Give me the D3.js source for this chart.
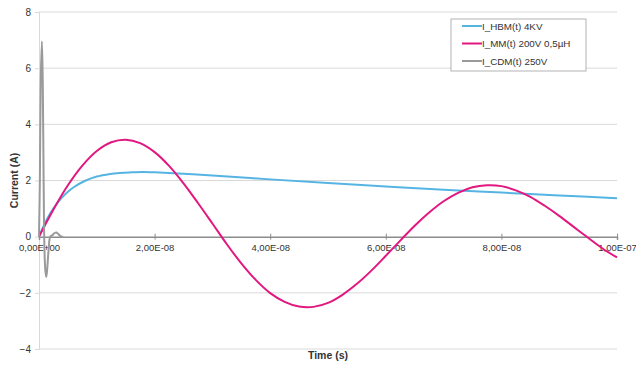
<!DOCTYPE html>
<html>
<head>
<meta charset="utf-8">
<script src="https://cdn.jsdelivr.net/npm/d3@7"></script>
<style>
  body { margin: 0; background: #fff; }
  svg text { font-family: "Liberation Sans", Arial, sans-serif; fill: #333; }
</style>
</head>
<body>
<div id="chart"></div>
<script>
// time in ns, current in A
var hbmTime = [0, 1, 2, 3, 4, 5, 6, 8, 10, 12, 14, 16, 18, 20, 25, 30, 40, 50, 60, 70, 80, 90, 100];
var hbmCurrent = [0, 0.47, 0.85, 1.15, 1.40, 1.60, 1.76, 1.99, 2.14, 2.22, 2.27, 2.29, 2.30, 2.29, 2.24, 2.18, 2.04, 1.91, 1.79, 1.67, 1.57, 1.47, 1.37];

var mmTime = [0, 2.5, 5, 7.5, 10, 12.5, 15, 17.5, 20, 22.5, 25, 27.5, 30, 32.5, 35, 37.5, 40, 42.5, 45, 47.5, 50,
  52.5, 55, 57.5, 60, 62.5, 65, 67.5, 70, 72.5, 75, 77.5, 80, 82.5, 85, 87.5, 90, 92.5, 95, 97.5, 100];
var mmCurrent = [0, 0.97, 1.83, 2.53, 3.05, 3.36, 3.45, 3.33, 3.01, 2.52, 1.90, 1.20, 0.47, -0.27, -0.95, -1.54, -2.01, -2.32, -2.49, -2.50, -2.36,
  -2.07, -1.68, -1.21, -0.68, -0.14, 0.39, 0.86, 1.26, 1.56, 1.76, 1.83, 1.80, 1.65, 1.42, 1.10, 0.74, 0.35, -0.04, -0.42, -0.74];

var cdmTime = [0, 0.15, 0.3, 0.5, 0.65, 0.8, 0.95, 1.1, 1.25, 1.4, 1.65, 1.95, 2.3, 2.7, 3.0, 3.3, 3.7, 4.0, 4.2];
var cdmCurrent = [0, 2.0, 5.5, 6.95, 5.5, 2.0, -0.5, -1.2, -1.43, -1.2, -0.5, 0, 0.05, 0.13, 0.15, 0.1, 0.02, 0, 0];

var seriesNames = ["I_HBM(t) 4KV", "I_MM(t) 200V 0,5µH", "I_CDM(t) 250V"];
var seriesColors = ["#56b4e3", "#e2177f", "#9a9a9a"];

var xTicks = [0, 2e-8, 4e-8, 6e-8, 8e-8, 1e-7];
var xTickLabels = ["0,00E+00", "2,00E-08", "4,00E-08", "6,00E-08", "8,00E-08", "1,00E-07"];
var yTicks = [-4, -2, 0, 2, 4, 6, 8];

var width = 636, height = 366;
var margin = { top: 12, right: 19, bottom: 17, left: 39 };

var svg = d3.select("#chart").append("svg")
  .attr("width", width)
  .attr("height", height);

var xScale = d3.scaleLinear().domain([0, 1e-7]).range([margin.left, width - margin.right]);
var yScale = d3.scaleLinear().domain([-4, 8]).range([height - margin.bottom, margin.top]);

// horizontal gridlines
svg.selectAll(".grid")
  .data(yTicks.filter(function(d) { return d !== 0; }))
  .enter()
  .append("line")
  .attr("x1", xScale(0))
  .attr("x2", xScale(1e-7))
  .attr("y1", function(d) { return yScale(d); })
  .attr("y2", function(d) { return yScale(d); })
  .attr("stroke", "#d9d9d9")
  .attr("stroke-width", 1);

// y axis
var yAxis = d3.axisLeft(yScale).tickValues(yTicks).tickSize(4).tickPadding(4);
var gy = svg.append("g")
  .attr("transform", "translate(" + margin.left + ",0)")
  .call(yAxis);
gy.select(".domain").attr("stroke", "#d9d9d9");
gy.selectAll(".tick line").attr("stroke", "#d9d9d9");
gy.selectAll(".tick text").style("font-size", "10px").attr("fill", "#333");

// x axis at y = 0
var xAxis = d3.axisBottom(xScale).tickValues(xTicks).tickSize(3).tickPadding(5)
  .tickFormat(function(d, i) { return xTickLabels[i]; });
var gx = svg.append("g")
  .attr("transform", "translate(0," + yScale(0) + ")")
  .call(xAxis);
gx.select(".domain").attr("stroke", "#8c8c8c").attr("stroke-width", 1.5);
gx.selectAll(".tick line").attr("stroke", "#8c8c8c").attr("y1", -3);
gx.selectAll(".tick text").style("font-size", "9.5px").attr("fill", "#333");

// series lines
var allSeries = [
  d3.zip(hbmTime, hbmCurrent),
  d3.zip(mmTime, mmCurrent),
  d3.zip(cdmTime, cdmCurrent)
];

var line = d3.line()
  .x(function(d) { return xScale(d[0] * 1e-9); })
  .y(function(d) { return yScale(d[1]); })
  .curve(d3.curveCatmullRom);

allSeries.forEach(function(s, i) {
  svg.append("path")
    .datum(s)
    .attr("d", line)
    .attr("fill", "none")
    .attr("stroke", seriesColors[i])
    .attr("stroke-width", 2);
});

// axis titles
svg.append("text")
  .attr("transform", "translate(18," + ((margin.top + height - margin.bottom) / 2) + ") rotate(-90)")
  .style("text-anchor", "middle")
  .style("font-weight", "bold")
  .style("font-size", "10.5px")
  .text("Current (A)");

svg.append("text")
  .attr("x", (xScale(0) + xScale(1e-7)) / 2)
  .attr("y", 359)
  .style("text-anchor", "middle")
  .style("font-weight", "bold")
  .style("font-size", "10.5px")
  .text("Time (s)");

// legend
var legend = svg.append("g").attr("transform", "translate(451,19)");
legend.append("rect")
  .attr("width", 135)
  .attr("height", 52)
  .attr("fill", "#fff")
  .attr("stroke", "#b3b3b3");

var items = legend.selectAll(".item")
  .data(seriesNames)
  .enter()
  .append("g")
  .attr("transform", function(d, i) { return "translate(0," + (7 + 17.5 * i) + ")"; });

items.append("line")
  .attr("x1", 11).attr("x2", 31)
  .attr("y1", 0).attr("y2", 0)
  .attr("stroke", function(d, i) { return seriesColors[i]; })
  .attr("stroke-width", 2);

items.append("text")
  .attr("x", 31)
  .attr("y", 3.5)
  .style("font-size", "9.8px")
  .text(function(d) { return d; });
</script>
</body>
</html>
